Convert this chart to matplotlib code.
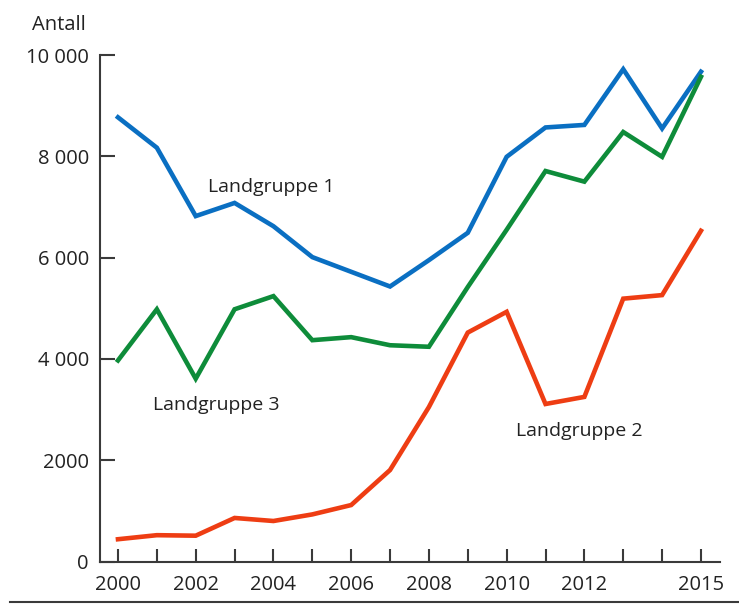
import matplotlib
matplotlib.use("Agg")
import matplotlib.pyplot as plt
from matplotlib.lines import Line2D

years = list(range(2000, 2016))

landgruppe1 = [8770, 8170, 6820, 7080, 6620, 6010, 5720, 5430, 5950, 6490,
               7990, 8570, 8620, 9720, 8550, 9670]
landgruppe2 = [440, 520, 510, 860, 800, 930, 1115, 1806, 3050, 4520,
               4930, 3110, 3250, 5190, 5260, 6530]
landgruppe3 = [3970, 4980, 3610, 4980, 5240, 4370, 4430, 4270, 4240, 5420,
               6550, 7710, 7500, 8480, 7990, 9570]

ytick_vals = [0, 2000, 4000, 6000, 8000, 10000]
ytick_labels = ["0", "2000", "4 000", "6 000", "8 000", "10 000"]
xtick_labels = ["2000", "", "2002", "", "2004", "", "2006", "", "2008", "",
                "2010", "", "2012", "", "", "2015"]

plt.rcParams['font.family'] = ['Open Sans', 'DejaVu Sans']

fig = plt.figure(figsize=(7.39, 6.06), dpi=100)
ax = fig.add_axes([0.1353, 0.0734, 0.8390, 0.8358])

ax.plot(years, landgruppe1, color="#0a6fc2", lw=3.3, solid_joinstyle="miter")
ax.plot(years, landgruppe3, color="#0e8c3a", lw=3.3, solid_joinstyle="miter")
ax.plot(years, landgruppe2, color="#ee3d13", lw=3.3, solid_joinstyle="miter")

ax.set_xlim(1999.537, 2015.49)
ax.set_ylim(0, 10000)

ax.set_xticks(years)
ax.set_xticklabels(xtick_labels)
ax.set_yticks(ytick_vals)
ax.set_yticklabels(ytick_labels)

for s in ["top", "right"]:
    ax.spines[s].set_visible(False)
for s in ["left", "bottom"]:
    ax.spines[s].set_color("#3a3a3a")
    ax.spines[s].set_linewidth(1.5)

ax.tick_params(axis="y", direction="in", length=11, width=1.5, color="#3a3a3a",
               labelsize=14.5, labelcolor="#222222", pad=8)
ax.tick_params(axis="x", direction="in", length=9.5, width=1.5, color="#3a3a3a",
               labelsize=14.5, labelcolor="#222222", pad=10)

ax.text(2002.315, 7289, "Landgruppe 1", fontsize=14, color="#222222", va="baseline")
ax.text(2000.90, 2991, "Landgruppe 3", fontsize=14, color="#222222", va="baseline")
ax.text(2010.24, 2478, "Landgruppe 2", fontsize=14, color="#222222", va="baseline")

fig.text(32 / 739, 1 - 29.5 / 606, "Antall", fontsize=14.5, color="#222222",
         va="baseline", ha="left")

fig.add_artist(Line2D([10 / 739, 1.0], [1 - 601.5 / 606, 1 - 601.5 / 606],
                      color="#3a3a3a", lw=1.5))

fig.savefig("out.png", dpi=100)
